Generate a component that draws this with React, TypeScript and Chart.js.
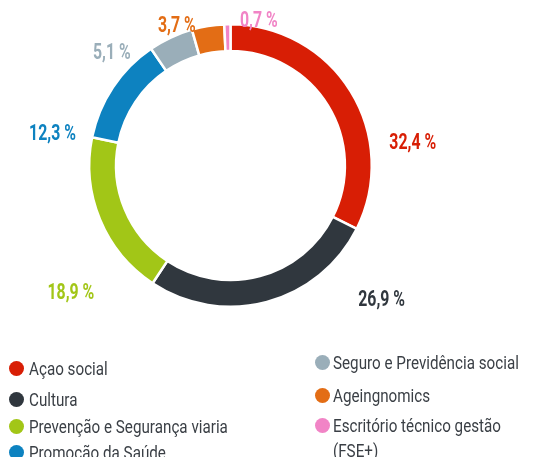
import React, { useEffect, useRef } from "react";
import { Chart, registerables } from "chart.js";

Chart.register(...registerables);

const categories = [
  "Açao social",
  "Cultura",
  "Prevenção e Segurança viaria",
  "Promoção da Saúde",
  "Seguro e Previdência social",
  "Ageingnomics",
  "Escritório técnico gestão (FSE+)",
];
const values = [32.4, 26.9, 18.9, 12.3, 5.1, 3.7, 0.7];
const valueLabels = ["32,4 %", "26,9 %", "18,9 %", "12,3 %", "5,1 %", "3,7 %", "0,7 %"];
const colors = ["#d81e05", "#30373e", "#a2c617", "#0d82c0", "#9aaeb9", "#e36d15", "#f184c6"];
// label anchors relative to donut centre, in units of outer radius
const labelAnchors: [number, number][] = [
  [1.29, -0.16],
  [1.07, 0.95],
  [-1.13, 0.9],
  [-1.26, -0.23],
  [-0.84, -0.8],
  [-0.38, -0.99],
  [0.2, -1.03],
];

const legendLeft = [0, 1, 2, 3];
const legendRight = [4, 5, 6];

const labelPlugin = {
  id: "outerLabels",
  afterDraw(chart: any) {
    const meta = chart.getDatasetMeta(0);
    const arc = meta.data[0];
    if (!arc) return;
    const { x, y, outerRadius } = arc.getProps(["x", "y", "outerRadius"], true);
    const ctx = chart.ctx;
    ctx.save();
    ctx.font = "bold 22px Roboto, sans-serif";
    ctx.textAlign = "center";
    ctx.textBaseline = "middle";
    const sx = 0.72;
    valueLabels.forEach((t, i) => {
      const [ax, ay] = labelAnchors[i];
      ctx.save();
      ctx.translate(x + ax * outerRadius, y + ay * outerRadius + 1);
      ctx.scale(sx, 1);
      ctx.fillStyle = colors[i];
      ctx.fillText(t, 0, 0);
      ctx.restore();
    });
    ctx.restore();
  },
};

function LegendItem({ i, cy, left, gap }: { i: number; cy: number; left: number; gap: number }) {
  const wrap = i === 6;
  return (
    <>
      <span
        style={{
          position: "absolute",
          left,
          top: cy - 7.5,
          width: 15,
          height: 15,
          borderRadius: "50%",
          background: colors[i],
        }}
      />
      <span
        style={{
          position: "absolute",
          left: left + 15 + gap,
          top: cy - 12.5,
          lineHeight: "25px",
          transform: "scaleX(0.845)",
          transformOrigin: "0 0",
          width: wrap ? 210 : "auto",
          whiteSpace: wrap ? "normal" : "nowrap",
        }}
      >
        {categories[i]}
      </span>
    </>
  );
}

export default function App() {
  const ref = useRef<HTMLCanvasElement>(null);
  useEffect(() => {
    if (!ref.current) return;
    const chart = new Chart(ref.current, {
      type: "doughnut",
      data: {
        labels: categories,
        datasets: [
          {
            data: values,
            backgroundColor: colors,
            borderColor: "#ffffff",
            borderWidth: 2.5,
          },
        ],
      },
      options: {
        responsive: false,
        animation: false,
        cutout: "81%",
        layout: { padding: { left: 88, right: 161, top: 22, bottom: 148 } },
        plugins: { legend: { display: false }, tooltip: { enabled: false } },
      },
      plugins: [labelPlugin],
    });
    return () => chart.destroy();
  }, []);
  return (
    <div
      style={{
        position: "absolute",
        top: 0,
        left: 0,
        width: 534,
        height: 457,
        background: "#fff",
        overflow: "hidden",
        fontFamily: "Roboto, 'Open Sans', sans-serif",
        fontSize: 18,
        color: "#3a3f45",
      }}
    >
      <canvas ref={ref} width={534} height={457} style={{ position: "absolute", top: 0, left: 0 }} />
      {legendLeft.map((i, k) => (
        <LegendItem key={i} i={i} left={9} gap={5} cy={[368, 399, 426, 452][k]} />
      ))}
      {legendRight.map((i, k) => (
        <LegendItem key={i} i={i} left={315} gap={3} cy={[362, 395, 425][k]} />
      ))}
    </div>
  );
}
